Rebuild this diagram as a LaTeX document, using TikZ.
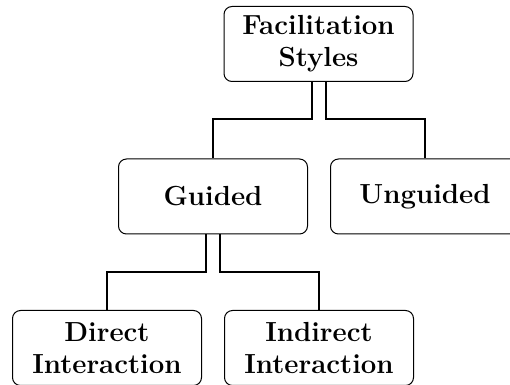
\documentclass[tikz,border=0pt]{standalone}
\begin{document}
\begin{tikzpicture}[x=0.5pt,y=-0.5pt,
  box/.style={draw, line width=0.5pt, rounded corners=4pt, align=center,
    minimum width=94.5pt, minimum height=37.5pt, inner sep=0pt,
    font=\fontsize{13.8}{16}\selectfont\bfseries},
  link/.style={draw, line width=1pt}]
\useasboundingbox (0,0) rectangle (510,385);
% boxes
\node[box] (fac) at (318.5,44) {Facilitation\\Styles};
\node[box] (gui) at (213,196.5) {Guided};
\node[box] (ung) at (425,196.5) {Unguided};
\node[box] (dir) at (107,348) {Direct\\Interaction};
\node[box] (ind) at (319,348) {Indirect\\Interaction};
% connectors
\draw[link] ([xshift=-3.5pt]fac.south) -- ++(0,37) -| (gui.north);
\draw[link] ([xshift=3.5pt]fac.south) -- ++(0,37) -| (ung.north);
\draw[link] ([xshift=-3.5pt]gui.south) -- ++(0,38) -| (dir.north);
\draw[link] ([xshift=3.5pt]gui.south) -- ++(0,38) -| (ind.north);
\end{tikzpicture}
\end{document}
